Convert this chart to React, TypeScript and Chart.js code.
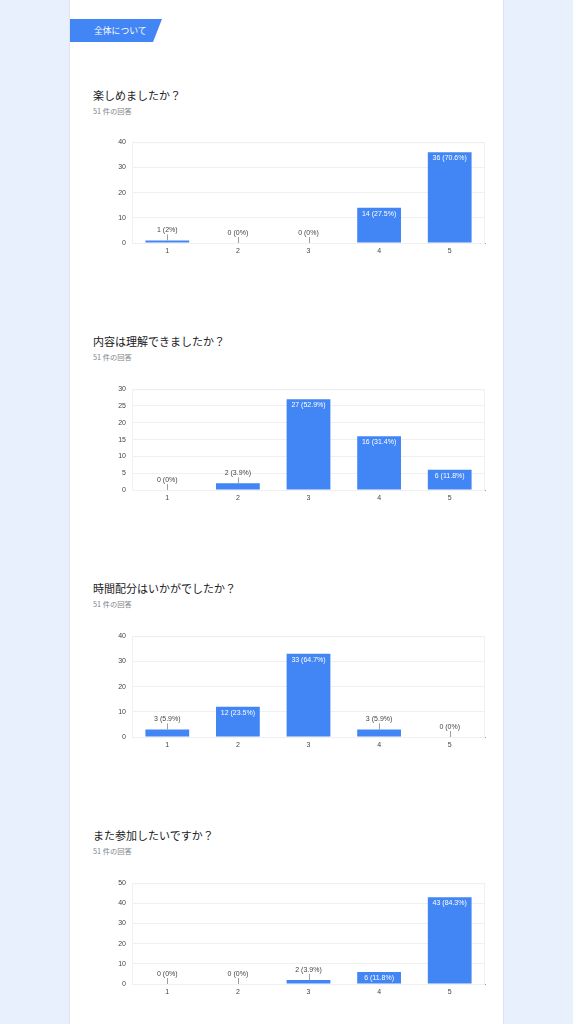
import { useEffect, useRef } from 'react';
import { Chart, registerables, Plugin } from 'chart.js';

Chart.register(...registerables);

// Answer options (1-5) shared by all questions
const categories = ['1', '2', '3', '4', '5'];

// 楽しめましたか？
const enjoyCounts = [1, 0, 0, 14, 36];
const enjoyPct = ['2%', '0%', '0%', '27.5%', '70.6%'];

// 内容は理解できましたか？
const understandCounts = [0, 2, 27, 16, 6];
const understandPct = ['0%', '3.9%', '52.9%', '31.4%', '11.8%'];

// 時間配分はいかがでしたか？
const timeCounts = [3, 12, 33, 3, 0];
const timePct = ['5.9%', '23.5%', '64.7%', '5.9%', '0%'];

// また参加したいですか？
const againCounts = [0, 0, 2, 6, 43];
const againPct = ['0%', '0%', '3.9%', '11.8%', '84.3%'];

// y axis ranges
const yMaxes = [40, 30, 40, 50];
const ySteps = [10, 5, 10, 10];

const titles = ['楽しめましたか？', '内容は理解できましたか？', '時間配分はいかがでしたか？', 'また参加したいですか？'];
const responseText = '51 件の回答';

const BLUE = '#4285f4';
const FONT = "'Liberation Sans', Arial, sans-serif";
const JP_FONT = "'Noto Sans CJK JP', 'Noto Sans', sans-serif";

// page positions (title centre y / plot top y) of each question block
const titleY = [95, 341, 588, 835];
const plotTop = [142, 389, 636, 883];

// Draws the light frame round the plot and the "n (x%)" labels
const makeLabelPlugin = (pcts: string[]): Plugin<'bar'> => ({
    id: 'barLabels',
    beforeDatasetsDraw(chart) {
        const { ctx, chartArea } = chart;
        ctx.save();
        ctx.strokeStyle = '#f0f0f0';
        ctx.lineWidth = 1;
        ctx.strokeRect(chartArea.left + 0.5, chartArea.top + 0.5, chartArea.width - 1, chartArea.height);
        ctx.restore();
    },
    afterDatasetsDraw(chart) {
        const { ctx } = chart;
        const meta = chart.getDatasetMeta(0);
        const values = chart.data.datasets[0].data as number[];
        ctx.save();
        ctx.font = `7px ${FONT}`;
        ctx.textAlign = 'center';
        ctx.textBaseline = 'middle';
        meta.data.forEach((el: any, i: number) => {
            const text = `${values[i]} (${pcts[i]})`;
            const h = el.base - el.y;
            if (h >= 10) {
                ctx.fillStyle = '#ffffff';
                ctx.fillText(text, el.x, el.y + 6);
            } else {
                ctx.strokeStyle = '#9e9e9e';
                ctx.lineWidth = 1;
                ctx.beginPath();
                ctx.moveTo(Math.round(el.x) + 0.5, el.y - 6);
                ctx.lineTo(Math.round(el.x) + 0.5, el.y);
                ctx.stroke();
                ctx.fillStyle = '#444444';
                ctx.fillText(text, el.x, el.y - 10);
            }
        });
        ctx.restore();
    },
});

type QProps = { counts: number[]; pcts: string[]; yMax: number; yStep: number; top: number };

const QuestionChart: React.FC<QProps> = ({ counts, pcts, yMax, yStep, top }) => {
    const chartRef = useRef<HTMLCanvasElement | null>(null);

    useEffect(() => {
        const ctx = chartRef.current?.getContext('2d');
        if (!ctx) return;

        const chart = new Chart(ctx, {
            type: 'bar',
            data: {
                labels: categories,
                datasets: [
                    {
                        data: counts,
                        backgroundColor: BLUE,
                        borderWidth: 0,
                        categoryPercentage: 1,
                        barPercentage: 0.62,
                    },
                ],
            },
            options: {
                animation: false,
                responsive: false,
                maintainAspectRatio: false,
                layout: { padding: { top: 7, right: 15, left: 0, bottom: 0 } },
                plugins: {
                    legend: { display: false },
                    tooltip: { enabled: false },
                },
                scales: {
                    x: {
                        grid: { display: false, drawTicks: false },
                        border: { display: true, color: '#9e9e9e', width: 1 },
                        ticks: { color: '#444', font: { family: FONT, size: 7 }, padding: 4 },
                        afterFit: (scale) => {
                            scale.height = 21;
                        },
                    },
                    y: {
                        min: 0,
                        max: yMax,
                        ticks: { stepSize: yStep, color: '#444', font: { family: FONT, size: 7 }, padding: 6 },
                        grid: { color: '#f0f0f0', drawTicks: false },
                        border: { display: false },
                        afterFit: (scale) => {
                            scale.width = 32;
                        },
                    },
                },
            },
            plugins: [makeLabelPlugin(pcts)],
        });

        return () => {
            chart.destroy();
        };
    }, [counts, pcts, yMax, yStep]);

    return (
        <canvas
            ref={chartRef}
            width={400}
            height={132}
            style={{ position: 'absolute', left: 100, top: top - 10, width: 400, height: 132 }}
        ></canvas>
    );
};

const countsList = [enjoyCounts, understandCounts, timeCounts, againCounts];
const pctList = [enjoyPct, understandPct, timePct, againPct];

export default function App() {
    return (
        <div
            style={{
                position: 'fixed',
                left: 0,
                top: 0,
                width: 573,
                height: 1024,
                background: '#e8f0fe',
                overflow: 'hidden',
            }}
        >
            {/* white form card */}
            <div
                style={{
                    position: 'absolute',
                    left: 70,
                    top: 0,
                    width: 433,
                    height: 1024,
                    background: '#ffffff',
                    boxShadow: '0 0 1px rgba(0,0,0,0.3)',
                }}
            ></div>

            {/* section tag */}
            <div
                style={{
                    position: 'absolute',
                    left: 70,
                    top: 19,
                    width: 92,
                    height: 23,
                    background: BLUE,
                    clipPath: 'polygon(0 0, 100% 0, calc(100% - 9px) 100%, 0 100%)',
                    color: '#ffffff',
                    fontFamily: JP_FONT,
                    fontSize: 8.8,
                    lineHeight: '23px',
                    paddingLeft: 24,
                    boxSizing: 'border-box',
                }}
            >
                全体について
            </div>

            {titles.map((t, i) => (
                <div key={t}>
                    <div
                        style={{
                            position: 'absolute',
                            left: 93,
                            top: titleY[i] - 8,
                            fontFamily: JP_FONT,
                            fontSize: 11,
                            lineHeight: '16px',
                            color: '#202124',
                            whiteSpace: 'nowrap',
                        }}
                    >
                        {t}
                    </div>
                    <div
                        style={{
                            position: 'absolute',
                            left: 93,
                            top: titleY[i] + 16 - 5,
                            fontFamily: JP_FONT,
                            fontSize: 7.3,
                            lineHeight: '10px',
                            color: '#80868b',
                            whiteSpace: 'nowrap',
                        }}
                    >
                        {responseText}
                    </div>
                    <QuestionChart
                        counts={countsList[i]}
                        pcts={pctList[i]}
                        yMax={yMaxes[i]}
                        yStep={ySteps[i]}
                        top={plotTop[i]}
                    />
                </div>
            ))}
        </div>
    );
}
